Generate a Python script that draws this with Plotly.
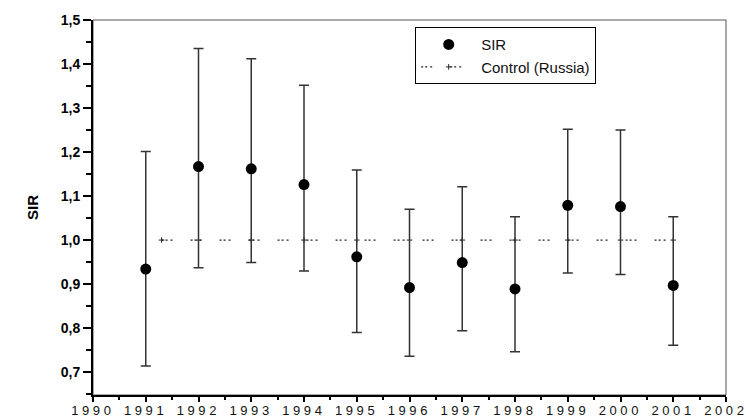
import plotly.graph_objects as go

years = [1991, 1992, 1993, 1994, 1995, 1996, 1997, 1998, 1999, 2000, 2001]
sir = [0.934, 1.167, 1.162, 1.126, 0.962, 0.892, 0.949, 0.889, 1.079, 1.076, 0.897]
upper = [1.201, 1.435, 1.412, 1.352, 1.159, 1.070, 1.121, 1.053, 1.252, 1.250, 1.053]
lower = [0.714, 0.937, 0.949, 0.930, 0.790, 0.736, 0.794, 0.746, 0.925, 0.922, 0.761]
control_years = [1991.3, 1992, 1993, 1994, 1995, 1996, 1997, 1998, 1999, 2000, 2001]
control = [1.0] * len(control_years)

y_ticks = [0.7, 0.8, 0.9, 1.0, 1.1, 1.2, 1.3, 1.4, 1.5]
y_ticklabels = ["0,7", "0,8", "0,9", "1,0", "1,1", "1,2", "1,3", "1,4", "1,5"]
x_ticks = list(range(1990, 2003))
x_ticklabels = [" ".join(str(y)) for y in x_ticks]

err_plus = [u - v for u, v in zip(upper, sir)]
err_minus = [v - l for v, l in zip(sir, lower)]

fig = go.Figure()
fig.add_trace(go.Scatter(
    x=control_years, y=control, mode="lines+markers", name="Control (Russia)",
    line=dict(color="#222222", width=1.2, dash="2px,2px,2px,3px,2px,18px"),
    marker=dict(symbol="cross-thin", size=4, line=dict(color="#222222", width=1)),
))
fig.add_trace(go.Scatter(
    x=years, y=sir, mode="markers", name="SIR",
    marker=dict(symbol="circle", size=11, color="black"),
    error_y=dict(type="data", symmetric=False, array=err_plus, arrayminus=err_minus,
                 color="#333333", thickness=1.5, width=5),
))

fig.update_layout(
    width=746, height=418,
    margin=dict(l=93, r=20, t=20, b=23, autoexpand=False),
    plot_bgcolor="white", paper_bgcolor="white",
    font=dict(family="Liberation Sans, Arial", color="black"),
    showlegend=True,
    legend=dict(x=0.509, y=0.981, xanchor="left", yanchor="top",
                bordercolor="black", borderwidth=1, bgcolor="white",
                traceorder="reversed",
                font=dict(size=15, family="Liberation Sans, Arial", color="#111111"),
                itemwidth=55, tracegroupgap=0),
    shapes=[dict(type="rect", xref="paper", yref="paper", x0=0, y0=0, x1=1, y1=1,
                 line=dict(color="#555555", width=1), layer="below")],
)
fig.update_xaxes(
    range=[1990, 2002], tickvals=x_ticks, ticktext=x_ticklabels,
    showgrid=False, zeroline=False, automargin=False,
    showline=True, linecolor="black", linewidth=2,
    ticks="outside", ticklen=5, tickwidth=2, tickcolor="black",
    ticklabelstandoff=-3, ticklabelshift=-2,
    tickfont=dict(size=13, family="Liberation Sans, Arial", color="#111111"),
    minor=dict(dtick=0.5, tick0=1990, ticks="outside", ticklen=3, tickwidth=2, tickcolor="black"),
)
fig.update_yaxes(
    range=[0.648, 1.5], tickvals=y_ticks, ticktext=y_ticklabels,
    showgrid=False, zeroline=False, automargin=False,
    showline=True, linecolor="black", linewidth=2,
    ticks="outside", ticklen=8, tickwidth=2, tickcolor="black",
    tickfont=dict(size=14, family="Liberation Sans, Arial", color="black", weight="bold"),
    minor=dict(dtick=0.05, tick0=0.7, ticks="outside", ticklen=5, tickwidth=2, tickcolor="black"),
    title=dict(text="<b>SIR</b>", font=dict(size=15, family="Liberation Sans, Arial"), standoff=18),
)

fig.write_html(
    "out.html",
    config={"displayModeBar": False},
    post_script="document.body.style.margin='0';document.documentElement.style.overflow='hidden';document.body.style.overflow='hidden';",
)
